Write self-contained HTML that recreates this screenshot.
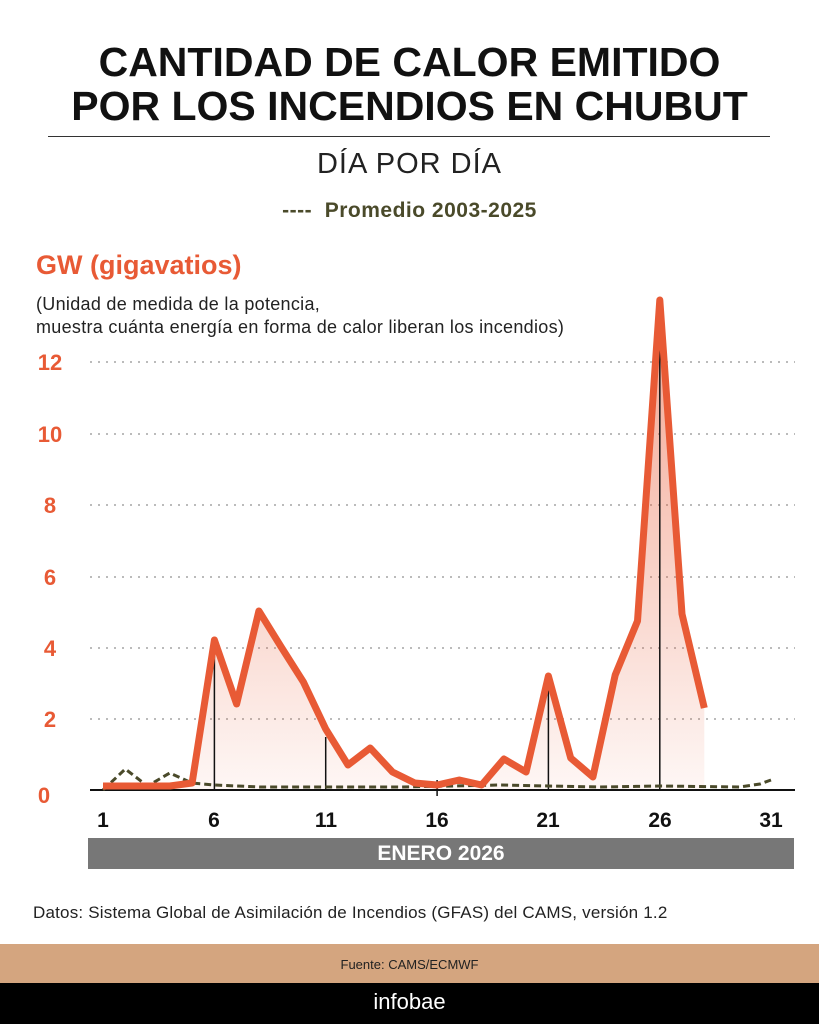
<!DOCTYPE html>
<html><head><meta charset="utf-8"><style>
body{margin:0;width:819px;height:1024px;background:#fff;font-family:"Liberation Sans",sans-serif;position:relative;overflow:hidden}
.a{position:absolute}
</style></head><body>
<div class="a" style="left:0;top:40px;width:819px;text-align:center;font-weight:bold;font-size:41px;line-height:44px;color:#111">CANTIDAD DE CALOR EMITIDO<br>POR LOS INCENDIOS EN CHUBUT</div>
<div class="a" style="left:48px;top:136px;width:722px;height:1px;background:#333"></div>
<div class="a" style="left:0;top:148px;width:819px;text-align:center;font-size:29px;letter-spacing:1px;color:#222">DÍA POR DÍA</div>
<div class="a" style="left:0;top:199px;width:819px;text-align:center;font-size:21px;letter-spacing:0.5px;font-weight:bold;color:#4a4a2a">----&nbsp; Promedio 2003-2025</div>
<div class="a" style="left:36px;top:250px;font-size:27px;font-weight:bold;color:#e85a35">GW (gigavatios)</div>
<div class="a" style="left:36px;top:293px;font-size:18px;letter-spacing:0.3px;line-height:23px;color:#222">(Unidad de medida de la potencia,<br>muestra cuánta energía en forma de calor liberan los incendios)</div>
<svg class="a" style="left:0;top:0" width="819" height="1024">
<defs><linearGradient id="g" x1="0" y1="0" x2="0" y2="1"><stop offset="0" stop-color="#e85a35" stop-opacity="0.55"/><stop offset="1" stop-color="#e85a35" stop-opacity="0.05"/></linearGradient></defs>
<g stroke="#bbb" stroke-width="2" stroke-dasharray="2,6">
<line x1="90" y1="362" x2="795" y2="362"/><line x1="90" y1="434" x2="795" y2="434"/><line x1="90" y1="505" x2="795" y2="505"/><line x1="90" y1="577" x2="795" y2="577"/><line x1="90" y1="648" x2="795" y2="648"/><line x1="90" y1="719" x2="795" y2="719"/></g>
<g fill="#e85a35" font-weight="bold" font-size="22" text-anchor="middle" font-family="Liberation Sans">
<text x="50" y="370">12</text><text x="50" y="442">10</text><text x="50" y="513">8</text><text x="50" y="585">6</text><text x="50" y="656">4</text><text x="50" y="727">2</text><text x="44" y="803">0</text></g>
<polygon fill="url(#g)" points="103,786 125.3,786 147.5,786 169.8,786 192.1,783 214.4,640 236.6,704 258.9,611 281.2,647 303.4,682 325.7,729 348,765 370.2,748 392.5,772 414.8,783 437.1,785 459.3,780 481.6,785 503.9,759 526.1,772 548.4,676 570.7,758 592.9,777 615.2,675 637.5,621 659.8,300 682,614 704.3,708 704.3,790 103,790"/>
<g stroke="#111" stroke-width="1.5"><line x1="214.4" y1="790" x2="214.4" y2="648"/><line x1="325.7" y1="790" x2="325.7" y2="737"/><line x1="437.1" y1="780" x2="437.1" y2="796"/><line x1="548.4" y1="790" x2="548.4" y2="688"/><line x1="659.8" y1="790" x2="659.8" y2="312"/></g>
<line x1="90" y1="790" x2="795" y2="790" stroke="#111" stroke-width="2"/>
<polyline fill="none" stroke="#4a4a2a" stroke-width="3" stroke-dasharray="7,4" points="103,790 125.3,769 147.5,786 169.8,773 192.1,783 214.4,785 260,787 400,787 500,785 548.4,786 600,787 660,786 740,787 760,784 771,780"/>
<polyline fill="none" stroke="#e85a35" stroke-width="7" stroke-linejoin="round" points="103,786 125.3,786 147.5,786 169.8,786 192.1,783 214.4,640 236.6,704 258.9,611 281.2,647 303.4,682 325.7,729 348,765 370.2,748 392.5,772 414.8,783 437.1,785 459.3,780 481.6,785 503.9,759 526.1,772 548.4,676 570.7,758 592.9,777 615.2,675 637.5,621 659.8,300 682,614 704.3,708"/>
<g fill="#111" font-weight="bold" font-size="21" text-anchor="middle" font-family="Liberation Sans">
<text x="103" y="827">1</text><text x="214" y="827">6</text><text x="326" y="827">11</text><text x="437" y="827">16</text><text x="548" y="827">21</text><text x="660" y="827">26</text><text x="771" y="827">31</text></g>
</svg>
<div class="a" style="left:88px;top:838px;width:706px;height:31px;background:#777;color:#fff;font-weight:bold;font-size:21px;line-height:31px;text-align:center">ENERO 2026</div>
<div class="a" style="left:33px;top:903px;font-size:17px;letter-spacing:0.2px;color:#222">Datos: Sistema Global de Asimilación de Incendios (GFAS) del CAMS, versión 1.2</div>
<div class="a" style="left:0;top:944px;width:819px;height:39px;background:#d4a57f;text-align:center;font-size:13px;line-height:41px;color:#222">Fuente: CAMS/ECMWF</div>
<div class="a" style="left:0;top:983px;width:819px;height:41px;background:#000;color:#fff;text-align:center;font-size:22px;line-height:38px">infobae</div>
</body></html>
